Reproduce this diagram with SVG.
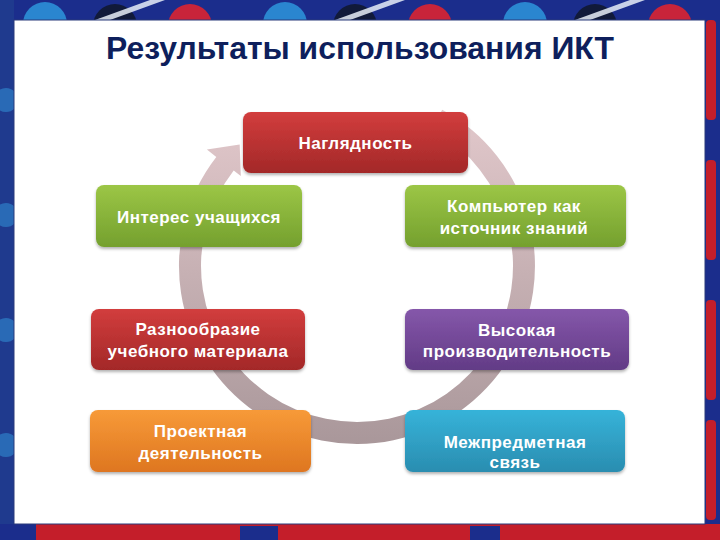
<svg xmlns="http://www.w3.org/2000/svg" width="720" height="540" viewBox="0 0 720 540">
  <defs>
    <linearGradient id="gRed" x1="0" y1="0" x2="0" y2="1"><stop offset="0" stop-color="#d23d3d"/><stop offset="1" stop-color="#a32828"/></linearGradient>
    <linearGradient id="gGreen" x1="0" y1="0" x2="0" y2="1"><stop offset="0" stop-color="#9cc646"/><stop offset="1" stop-color="#74a02e"/></linearGradient>
    <linearGradient id="gPurple" x1="0" y1="0" x2="0" y2="1"><stop offset="0" stop-color="#8557aa"/><stop offset="1" stop-color="#623b86"/></linearGradient>
    <linearGradient id="gOrange" x1="0" y1="0" x2="0" y2="1"><stop offset="0" stop-color="#f79a38"/><stop offset="1" stop-color="#de7620"/></linearGradient>
    <linearGradient id="gTeal" x1="0" y1="0" x2="0" y2="1"><stop offset="0" stop-color="#36b3d9"/><stop offset="1" stop-color="#2a8db0"/></linearGradient>
    <linearGradient id="gRing" gradientUnits="userSpaceOnUse" x1="0" y1="100" x2="0" y2="445"><stop offset="0" stop-color="#e4cacd"/><stop offset="1" stop-color="#a9979a"/></linearGradient>
    <filter id="sh" x="-10%" y="-20%" width="120%" height="150%">
      <feDropShadow dx="0" dy="2" stdDeviation="1.5" flood-color="#000" flood-opacity="0.3"/>
    </filter>
  </defs>
  <style>
    .box { filter: url(#sh); }
    .lbl { font-family: "Liberation Sans", Arial, sans-serif; font-weight: bold; font-size: 17px; fill: #ffffff; text-anchor: middle; letter-spacing: 0.5px; }
    .title { font-family: "Liberation Sans", Arial, sans-serif; font-weight: bold; font-size: 32px; fill: #0e1f5c; text-anchor: middle; }
  </style>

  <!-- decorative frame -->
  <g id="frame">
    <rect x="0" y="0" width="720" height="540" fill="#1b2d8c"/>
    <rect x="0" y="0" width="14" height="540" fill="#1f3a8e"/>
    <g fill="#2e7fc8" opacity="0.7">
      <circle cx="6" cy="100" r="12"/><circle cx="6" cy="215" r="12"/><circle cx="6" cy="330" r="12"/><circle cx="6" cy="445" r="12"/>
    </g>
    <g>
      <circle cx="45" cy="24" r="22" fill="#2a86d0"/><circle cx="115" cy="26" r="22" fill="#111a3a"/><circle cx="190" cy="26" r="22" fill="#c8243a"/>
      <circle cx="285" cy="24" r="22" fill="#2a86d0"/><circle cx="355" cy="26" r="22" fill="#111a3a"/><circle cx="430" cy="26" r="22" fill="#c8243a"/>
      <circle cx="525" cy="24" r="22" fill="#2a86d0"/><circle cx="595" cy="26" r="22" fill="#111a3a"/><circle cx="670" cy="26" r="22" fill="#c8243a"/>
      <path d="M95 20 L150 0 L165 0 L110 20 Z M335 20 L390 0 L405 0 L350 20 Z M575 20 L630 0 L645 0 L590 20 Z" fill="#e8eef8" opacity="0.85"/>
    </g>
    <g fill="#c41e2a">
      <rect x="706" y="20" width="10" height="100" rx="4"/><rect x="706" y="160" width="10" height="100" rx="4"/>
      <rect x="706" y="300" width="10" height="100" rx="4"/><rect x="706" y="420" width="10" height="100" rx="4"/>
      <rect x="0" y="524" width="720" height="16"/>
    </g>
    <g fill="#1b2d8c">
      <rect x="240" y="526" width="38" height="14"/><rect x="470" y="526" width="30" height="14"/><rect x="0" y="524" width="36" height="16"/>
    </g>
    <rect x="14" y="20" width="691" height="504" fill="#ffffff" stroke="#2a3a7a" stroke-width="1"/>
  </g>

  <text class="title" x="360" y="59" textLength="508" lengthAdjust="spacingAndGlyphs">Результаты использования ИКТ</text>

  <!-- connectors -->
  <g id="connectors">
    <path d="M442.2 109.7 A178 178 0 1 1 216.3 156.9 L206.9 149.5 L239.7 144.6 L240.8 175.9 L233.7 170.4 A156 156 0 1 0 431.7 129.0 Z" fill="url(#gRing)"/>
  </g>

  <g id="n-naglyadnost">
    <rect class="box" x="243" y="112" width="225" height="61" rx="8" fill="url(#gRed)"/>
    <text class="lbl" x="355.5" y="149">Наглядность</text>
  </g>
  <g id="n-interes">
    <rect class="box" x="96" y="185" width="206" height="62" rx="8" fill="url(#gGreen)"/>
    <text class="lbl" x="199" y="223">Интерес учащихся</text>
  </g>
  <g id="n-kompyuter">
    <rect class="box" x="405" y="185" width="221" height="62" rx="8" fill="url(#gGreen)"/>
    <text class="lbl" x="514" y="212">Компьютер как</text>
    <text class="lbl" x="514" y="234">источник знаний</text>
  </g>
  <g id="n-raznoobrazie">
    <rect class="box" x="91" y="309" width="214" height="61" rx="8" fill="url(#gRed)"/>
    <text class="lbl" x="198" y="335">Разнообразие</text>
    <text class="lbl" x="198" y="357">учебного материала</text>
  </g>
  <g id="n-vysokaya">
    <rect class="box" x="405" y="309" width="224" height="61" rx="8" fill="url(#gPurple)"/>
    <text class="lbl" x="517" y="336">Высокая</text>
    <text class="lbl" x="517" y="357">производительность</text>
  </g>
  <g id="n-proektnaya">
    <rect class="box" x="90" y="410" width="221" height="62" rx="8" fill="url(#gOrange)"/>
    <text class="lbl" x="200.5" y="437">Проектная</text>
    <text class="lbl" x="200.5" y="459">деятельность</text>
  </g>
  <g id="n-mezhpredmetnaya">
    <rect class="box" x="405" y="410" width="220" height="62" rx="8" fill="url(#gTeal)"/>
    <text class="lbl" x="515" y="448">Межпредметная</text>
    <text class="lbl" x="515" y="468">связь</text>
  </g>
</svg>
